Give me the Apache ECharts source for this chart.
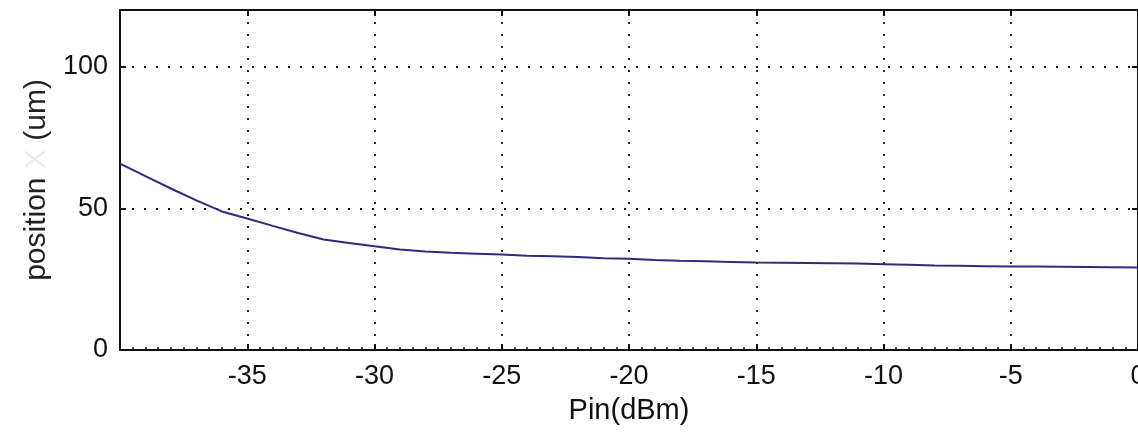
<!DOCTYPE html>
<html>
<head>
<meta charset="utf-8">
<style>
  html, body { margin: 0; padding: 0; background: #ffffff; }
  #chart { width: 1138px; height: 435px; }
</style>
<script src="https://cdn.jsdelivr.net/npm/echarts@6/dist/echarts.min.js"></script>
</head>
<body>
<div id="chart"></div>
<script>
// Input power (dBm) and the corresponding position (um)
const pinDbm = [-40, -39, -38, -37, -36, -35, -34, -33, -32, -31, -30, -29, -28, -27, -26,
  -25, -24, -23, -22, -21, -20, -19, -18, -17, -16, -15, -14, -13, -12, -11, -10,
  -9, -8, -7, -6, -5, -4, -3, -2, -1, 0];
const positionUm = [65.8, 61.4, 57.0, 52.8, 48.9, 46.4, 43.8, 41.3, 39.0, 37.8, 36.6, 35.5,
  34.8, 34.3, 34.0, 33.7, 33.3, 33.1, 32.8, 32.4, 32.2, 31.8, 31.5, 31.3, 31.1, 30.9,
  30.8, 30.7, 30.6, 30.5, 30.3, 30.1, 29.8, 29.7, 29.6, 29.5, 29.5, 29.4, 29.3, 29.2, 29.1];

const xRange = [-40, 0];
const xStep = 5;
const yRange = [0, 120];
const yStep = 50;

const xTitle = 'Pin(dBm)';
const yTitle = ['position', 'X', '(um)'];

const chart = echarts.init(document.getElementById('chart'), null, { renderer: 'canvas' });

const font = 'Liberation Sans, Arial, sans-serif';
const frame = { show: true, onZero: false, lineStyle: { color: '#111', width: 2 } };
const dotted = { show: true, lineStyle: { color: '#111', width: 1.8, type: [2, 10] } };
const inTick = { show: true, inside: true, length: 6, lineStyle: { color: '#111', width: 2 } };

chart.setOption({
  animation: false,
  backgroundColor: '#ffffff',
  grid: { left: 120, top: 10, width: 1018, height: 340, containLabel: false, outerBoundsMode: 'none' },
  xAxis: [
    {
      type: 'value', position: 'bottom',
      min: xRange[0], max: xRange[1], interval: xStep,
      axisLine: frame, axisTick: inTick,
      minorTick: { show: true, splitNumber: 10, length: 3, lineStyle: { color: '#111', width: 1.5 } },
      splitLine: dotted,
      axisLabel: { show: true, showMinLabel: false, color: '#111', fontSize: 27, fontFamily: font, margin: 13 },
      name: xTitle, nameLocation: 'middle', nameGap: 46,
      nameTextStyle: { color: '#111', fontSize: 29, fontFamily: font }
    },
    {
      type: 'value', position: 'top',
      min: xRange[0], max: xRange[1], interval: xStep,
      axisLine: frame, axisTick: inTick,
      splitLine: { show: false }, axisLabel: { show: false }
    }
  ],
  yAxis: [
    {
      type: 'value', position: 'left',
      min: yRange[0], max: yRange[1], interval: yStep,
      axisLine: frame, axisTick: inTick,
      splitLine: dotted,
      axisLabel: { show: true, showMaxLabel: false, color: '#111', fontSize: 27, fontFamily: font, margin: 12 },
      name: '{a|' + yTitle[0] + '} {b|' + yTitle[1] + '} {a|' + yTitle[2] + '}',
      nameLocation: 'middle', nameGap: 63,
      nameTextStyle: {
        fontSize: 30, fontFamily: font,
        rich: {
          a: { color: '#222', fontSize: 30, fontFamily: font },
          b: { color: '#ececec', fontSize: 30, fontFamily: font }
        }
      }
    },
    {
      type: 'value', position: 'right',
      min: yRange[0], max: yRange[1], interval: yStep,
      axisLine: frame, axisTick: inTick,
      splitLine: { show: false }, axisLabel: { show: false }
    }
  ],
  series: [
    {
      type: 'line',
      xAxisIndex: 0, yAxisIndex: 0,
      data: pinDbm.map((x, i) => [x, positionUm[i]]),
      showSymbol: false,
      lineStyle: { color: '#2c2c7c', width: 2 },
      itemStyle: { color: '#2c2c7c' }
    }
  ]
});
</script>
</body>
</html>
